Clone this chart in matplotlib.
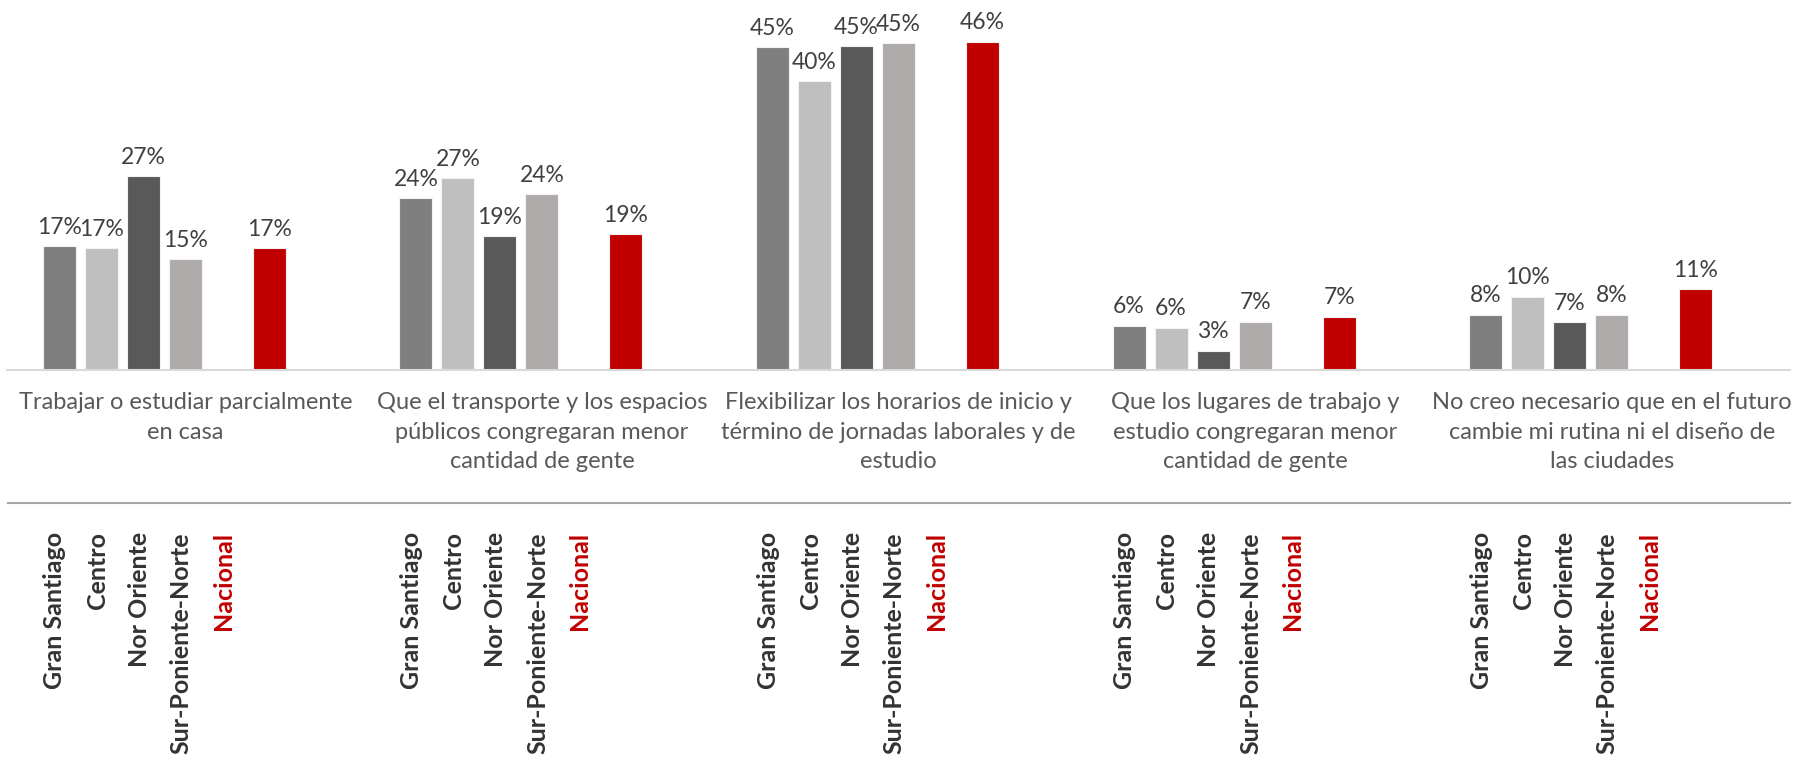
from matplotlib import pyplot as plt
from matplotlib.lines import Line2D
import numpy as np

categories = ['Trabajar o estudiar parcialmente\nen casa',
              'Que el transporte y los espacios\npúblicos congregaran menor\ncantidad de gente',
              'Flexibilizar los horarios de inicio y\ntérmino de jornadas laborales y de\nestudio',
              'Que los lugares de trabajo y\nestudio congregaran menor\ncantidad de gente',
              'No creo necesario que en el futuro\ncambie mi rutina ni el diseño de\nlas ciudades']
series = ['Gran Santiago', 'Centro', 'Nor Oriente', 'Sur-Poniente-Norte', 'Nacional']
gran_santiago = [17.2, 23.9, 44.8, 6.15, 7.7]
centro = [16.95, 26.6, 40.1, 5.9, 10.2]
nor_oriente = [26.9, 18.6, 45.0, 2.7, 6.6]
sur_poniente = [15.4, 24.4, 45.4, 6.7, 7.7]
nacional = [16.95, 18.9, 45.6, 7.4, 11.2]

colors = ['#7f7f7f', '#bfbfbf', '#595959', '#aeaaaa', '#c00000']
label_colors = ['#333333', '#333333', '#333333', '#333333', '#c00000']
slots = [0, 1, 2, 3, 5]   # slot 4 and 6 are empty in the original
FONT = 'Lato'

#######################################################################################
def main():
    data = [gran_santiago, centro, nor_oriente, sur_poniente, nacional]
    fig = plt.figure(figsize=(18.05, 7.65), dpi=100)
    ax = fig.add_axes([7/1805, 1-370/765, (1790-7)/1805, 370/765])

    pitch = 0.1178
    width = 0.0925
    x = np.arange(len(categories))
    for vals, col, slot in zip(data, colors, slots):
        pos = x + (slot - 3)*pitch
        bars = ax.bar(pos, vals, width, color=col, edgecolor='#f2f2f2', linewidth=0.8)
        for b, v in zip(bars, vals):
            ax.annotate('{:.0f}%'.format(v), (b.get_x()+b.get_width()/2, v),
                        xytext=(0, 6), textcoords='offset points', ha='center', va='bottom',
                        fontsize=16.5, color='#404040', family=FONT)

    ax.set_xlim(-0.5, 4.5)
    ax.set_ylim(0, 370/7.2)
    for s in ['top', 'right', 'left']:
        ax.spines[s].set_visible(False)
    ax.spines['bottom'].set_color('#d9d9d9')
    ax.spines['bottom'].set_linewidth(1.5)
    ax.set_yticks([])
    ax.set_xticks(x)
    ax.set_xticklabels(categories, fontsize=17, color='#595959', family=FONT, linespacing=1.5)
    ax.tick_params(axis='x', length=0, pad=16)

    # separator line below category names
    fig.add_artist(Line2D([8/1805, 1790/1805], [1-503/765, 1-503/765], color='#a6a6a6', lw=1.5))

    # rotated series names under each group
    for i in x:
        for k, (name, lc) in enumerate(zip(series, label_colors)):
            ax.text(i + (k - 3)*pitch - 0.012, -0.438, name, rotation=90, ha='center', va='top',
                    fontsize=18, fontweight='bold', color=lc, family=FONT,
                    transform=ax.get_xaxis_transform())

    fig.savefig('out.png', dpi=100)
#######################################################################################
if __name__ == '__main__':
    main()
